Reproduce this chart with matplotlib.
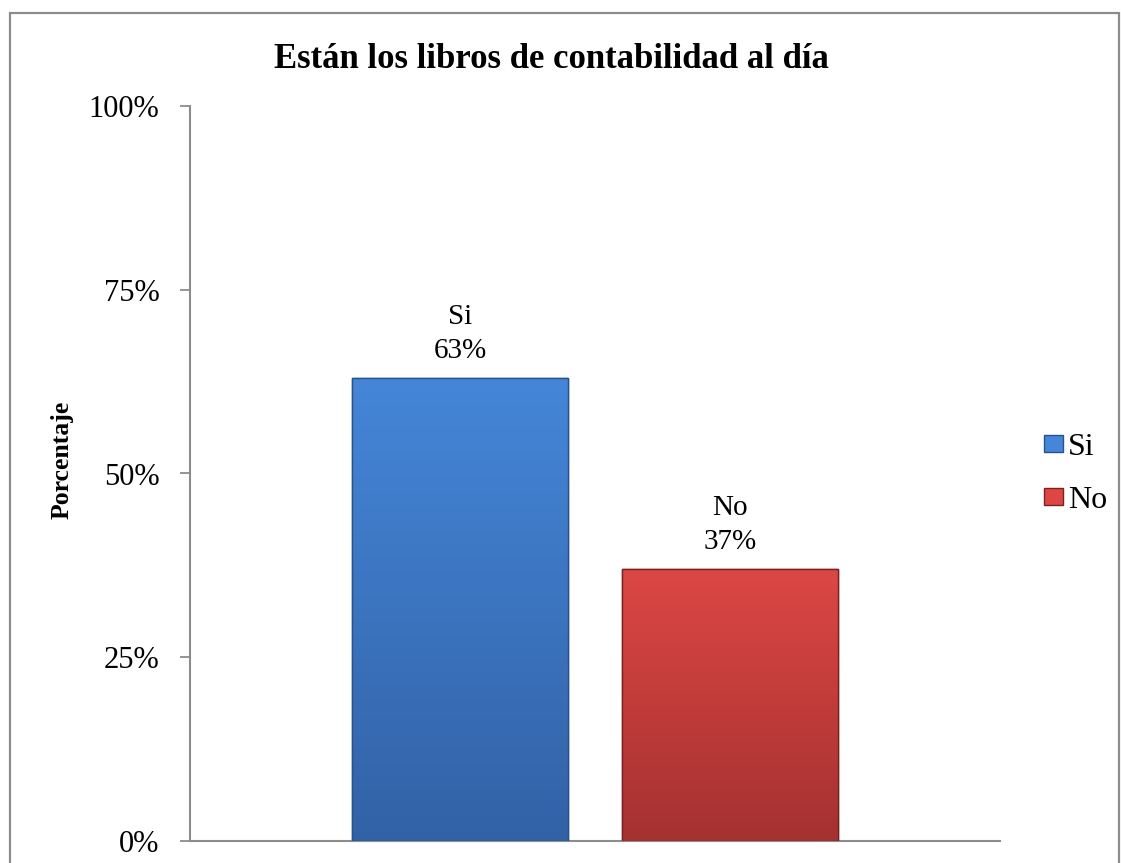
import numpy as np
import matplotlib.pyplot as plt
import matplotlib.patches as mpatches
from matplotlib.colors import LinearSegmentedColormap
from matplotlib.ticker import FuncFormatter

categorias = ['Si', 'No']
valores = [63, 37]
ticks_y = [0, 25, 50, 75, 100]
titulo = 'Están los libros de contabilidad al día'

colores_arriba = ['#4586d8', '#dc4744']
colores_abajo = ['#3262a6', '#a53131']
colores_borde = ['#2a5288', '#7a2222']

plt.rcParams['font.family'] = ['Liberation Serif', 'DejaVu Serif']

fig = plt.figure(figsize=(11.21, 8.63), dpi=100)
ax = fig.add_axes([190/1121, 22/863, 810/1121, 735/863])

# borde del grafico
fig.patches.append(mpatches.Rectangle((10/1121, -0.05), 1109/1121, 1.05 - 13/863,
                                      transform=fig.transFigure, fill=False,
                                      edgecolor='#8c8c8c', linewidth=1.6))

x = np.arange(len(categorias))
barras = ax.bar(x, valores, width=0.8, color=colores_arriba, zorder=2)

########degradado en las barras########
for i, b in enumerate(barras):
    b.set_edgecolor(colores_borde[i])
    b.set_linewidth(1.0)
    cmap = LinearSegmentedColormap.from_list('g%d' % i, [colores_abajo[i], colores_arriba[i]])
    grad = np.linspace(0, 1, 256).reshape(-1, 1)
    x0, y0 = b.get_x(), b.get_y()
    im = ax.imshow(grad, cmap=cmap, origin='lower', aspect='auto',
                   extent=[x0, x0 + b.get_width(), y0, y0 + b.get_height()], zorder=3)
    im.set_clip_path(b)
    borde = mpatches.Rectangle((x0, y0), b.get_width(), b.get_height(), fill=False,
                               edgecolor=colores_borde[i], linewidth=1.0, zorder=4)
    ax.add_patch(borde)
    ax.text(x[i], valores[i] + 1.9, '%s\n%d%%' % (categorias[i], valores[i]),
            ha='center', va='bottom', fontsize=21, linespacing=1.4)

ax.set_xlim(-1, 2)
ax.set_ylim(0, 100)
ax.set_yticks(ticks_y)
ax.yaxis.set_major_formatter(FuncFormatter(lambda v, p: '%d%%' % v))
ax.set_xticks([])
ax.tick_params(axis='y', direction='out', length=7, width=1.3, color='#8c8c8c',
               labelsize=22, pad=15)
for s in ['top', 'right']:
    ax.spines[s].set_visible(False)
for s in ['left', 'bottom']:
    ax.spines[s].set_color('#8c8c8c')
    ax.spines[s].set_linewidth(1.5)

fig.text(62/1121, 1 - 460/863, 'Porcentaje', rotation=90, ha='center', va='center',
         fontsize=18.5, fontweight='bold')
fig.text(551/1121, 1 - 60/863, titulo, ha='center', va='center', fontsize=25, fontweight='bold')

handles = [mpatches.Patch(facecolor=colores_arriba[i], edgecolor=colores_borde[i], label=categorias[i])
           for i in range(len(categorias))]
fig.legend(handles=handles, loc='center left', bbox_to_anchor=(1044/1121, 1 - 474/863),
           frameon=False, fontsize=23, handlelength=0.6, handleheight=0.45,
           handletextpad=0.15, labelspacing=0.75, borderaxespad=0, borderpad=0)

fig.savefig('out.png', dpi=100)
